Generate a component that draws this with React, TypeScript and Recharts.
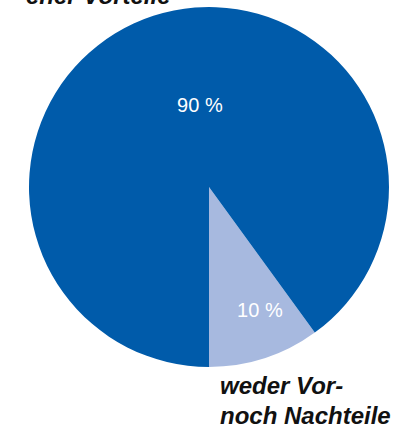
import { PieChart, Pie, Cell } from 'recharts'

// answer shares, drawn from the bottom going counter-clockwise
const categories = ['weder Vor- noch Nachteile', 'eher Vorteile']
const shares = [10, 90]
const sliceLabels = ['10 %', '90 %']

const COLORS = ['#A7B9DF', '#005BAA']
const FONT = '"Liberation Sans", Arial, Helvetica, sans-serif'

// per-slice label placement (radius in px, angle nudge in degrees)
const LABEL_RADIUS = [133, 83]
const LABEL_NUDGE = [4.5, -11.7]
const RAD = Math.PI / 180

const data = categories.map((name, i) => ({ name, value: shares[i] }))

const renderLabel = (props: any) => {
  const { cx, cy, midAngle, index } = props
  const a = (midAngle + LABEL_NUDGE[index]) * RAD
  const r = LABEL_RADIUS[index]
  return (
    <text
      x={cx + r * Math.cos(a)}
      y={cy - r * Math.sin(a)}
      fill="#fff"
      fontSize={20}
      fontFamily={FONT}
      textAnchor="middle"
      dominantBaseline="central"
    >
      {sliceLabels[index]}
    </text>
  )
}

export default function App() {
  return (
    <div style={{ position: 'relative', width: 404, height: 429, overflow: 'hidden' }}>
      <style>{`body { margin: 0; }`}</style>
      <PieChart width={404} height={429} margin={{ top: 0, right: 0, bottom: 0, left: 0 }}>
        <Pie
          data={data}
          dataKey="value"
          nameKey="name"
          cx={209}
          cy={187}
          outerRadius={180}
          startAngle={-90}
          endAngle={270}
          stroke="none"
          labelLine={false}
          label={renderLabel}
          isAnimationActive={false}
        >
          {data.map((entry, i) => (
            <Cell key={entry.name} fill={COLORS[i]} />
          ))}
        </Pie>
      </PieChart>
      {/* category names sit outside the pie; the top one is clipped like in the source */}
      <svg
        width={404}
        height={429}
        style={{ position: 'absolute', left: 0, top: 0, pointerEvents: 'none' }}
      >
        <g fontFamily={FONT} fontSize={24} fontWeight="bold" fontStyle="italic" fill="#111">
          <text x={26} y={4}>eher Vorteile</text>
          <text x={220} y={394}>weder Vor-</text>
          <text x={220} y={424}>noch Nachteile</text>
        </g>
      </svg>
    </div>
  )
}
